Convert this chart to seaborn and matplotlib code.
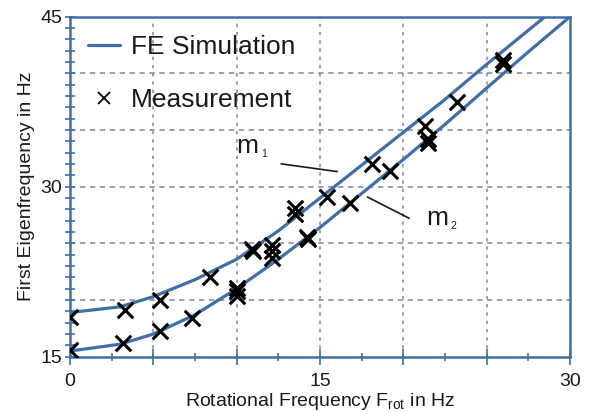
import numpy as np
import pandas as pd
import matplotlib
matplotlib.use("Agg")
import matplotlib.pyplot as plt
import seaborn as sns
from matplotlib.lines import Line2D
from matplotlib.ticker import FixedLocator, MultipleLocator

# ---- data ----
sim_frot = [0, 3, 5, 7.5, 10, 12.5, 15, 17.5, 20, 22.5, 25, 27.5, 30]
sim_m1 = [18.9, 19.4, 20.3, 21.8, 23.6, 26.1, 29.0, 31.9, 34.8, 37.7, 40.8, 43.8, 46.8]
sim_m2 = [15.5, 16.1, 17.0, 18.7, 21.0, 23.6, 26.4, 29.4, 32.4, 35.5, 38.7, 41.9, 45.0]

meas_frot = [0.0, 0.0, 3.3, 3.2, 5.4, 5.4, 7.3, 8.4, 10.0, 10.0, 10.0, 11.0, 10.9,
             12.1, 12.1, 12.1, 13.5, 13.5, 14.2, 14.3, 15.4, 16.8, 18.1, 19.2,
             21.3, 21.5, 21.5, 23.2, 26.0, 26.0]
meas_eig = [18.5, 15.6, 19.1, 16.2, 20.0, 17.3, 18.4, 22.0, 21.1, 20.8, 20.4, 24.3, 24.5,
            24.9, 24.3, 23.7, 28.1, 27.6, 25.6, 25.4, 29.1, 28.6, 32.0, 31.4,
            35.4, 34.2, 33.9, 37.5, 41.2, 40.8]

x_ticks = [0, 5, 10, 15, 20, 25, 30]
x_ticklabels = ["0", "", "", "15", "", "", "30"]
y_ticks = [15, 20, 25, 30, 35, 40, 45]
y_ticklabels = ["15", "", "", "30", "", "", "45"]

BLUE = "#3f6ea8"
GRID = "#7d8799"
TXT = "#1a1a1a"

sns.set_style("white")
plt.rcParams["font.family"] = ["Liberation Sans", "DejaVu Sans"]
plt.rcParams["mathtext.fontset"] = "custom"
plt.rcParams["mathtext.rm"] = "Liberation Sans"
plt.rcParams["mathtext.it"] = "Liberation Sans"

fig = plt.figure(figsize=(5.89, 4.12), dpi=100)
ax = fig.add_axes([70 / 589, 1 - 356.7 / 412, 500 / 589, 340 / 412])

sim_df = pd.DataFrame({"frot": sim_frot, "m1": sim_m1, "m2": sim_m2})
meas_df = pd.DataFrame({"frot": meas_frot, "eig": meas_eig})

# grid
for gx in [5, 10, 15, 20, 25]:
    ax.axvline(gx, color=GRID, lw=1.1, ls=(0, (2.2, 3.2)), zorder=0)
for gy in [20, 25, 30, 35, 40]:
    ax.axhline(gy, color=GRID, lw=1.1, ls=(0, (3.5, 3)), zorder=0)

sns.lineplot(data=sim_df, x="frot", y="m1", color=BLUE, lw=2.3, sort=False, ax=ax, zorder=3)
sns.lineplot(data=sim_df, x="frot", y="m2", color=BLUE, lw=2.3, sort=False, ax=ax, zorder=3)
sns.scatterplot(data=meas_df, x="frot", y="eig", marker="x", color="black", s=125,
                linewidth=2.2, ax=ax, zorder=4)

ax.set_xlim(0, 30)
ax.set_ylim(15, 45)
ax.xaxis.set_major_locator(FixedLocator(x_ticks))
ax.set_xticklabels(x_ticklabels)
ax.xaxis.set_minor_locator(MultipleLocator(2.5))
ax.yaxis.set_major_locator(FixedLocator(y_ticks))
ax.set_yticklabels(y_ticklabels)
ax.yaxis.set_minor_locator(MultipleLocator(1))

ax.tick_params(axis="x", which="major", direction="inout", length=11, width=1.2,
               color=BLUE, labelsize=14, labelcolor=TXT, pad=6)
ax.tick_params(axis="x", which="minor", direction="inout", length=6, width=1.2, color=BLUE)
ax.tick_params(axis="y", which="both", direction="inout", length=7, width=1.2,
               color=BLUE, labelsize=14, labelcolor=TXT, pad=2)
ax.tick_params(axis="both", which="both", bottom=True, left=True)

for side, sp in ax.spines.items():
    sp.set_visible(True)
    sp.set_color(BLUE)
    sp.set_linewidth(1.8)

ax.set_xlabel(r"Rotational Frequency F$_\mathregular{rot}$ in Hz", fontsize=14,
              color=TXT, labelpad=1)
ax.set_ylabel("First Eigenfrequency in Hz", fontsize=14, color=TXT, labelpad=4)

# annotations
ax.text(10.0, 33.0, "m", fontsize=19, color=TXT, ha="left", va="baseline")
ax.text(11.5, 32.6, "1", fontsize=7.5, color=TXT, ha="left", va="baseline")
ax.annotate("", xy=(16.2, 31.3), xytext=(12.5, 32.05),
            arrowprops=dict(arrowstyle="-", color=TXT, lw=1.2))
ax.text(21.4, 26.6, "m", fontsize=19, color=TXT, ha="left", va="baseline")
ax.text(22.8, 26.25, "2", fontsize=7.5, color=TXT, ha="left", va="baseline")
ax.annotate("", xy=(20.5, 27.1), xytext=(17.7, 29.2),
            arrowprops=dict(arrowstyle="-", color=TXT, lw=1.2))

handles = [Line2D([], [], color=BLUE, lw=2.3),
           Line2D([], [], color="black", marker="x", ls="none", markersize=8.5, mew=1.3)]
leg = ax.legend(handles, ["FE Simulation", "Measurement"], loc="upper left",
                bbox_to_anchor=(0.036, 0.945), frameon=False, fontsize=19,
                handlelength=1.2, handletextpad=0.42, labelspacing=1.1,
                borderaxespad=0, borderpad=0)
for t in leg.get_texts():
    t.set_color(TXT)

fig.savefig("out.png", dpi=100)
